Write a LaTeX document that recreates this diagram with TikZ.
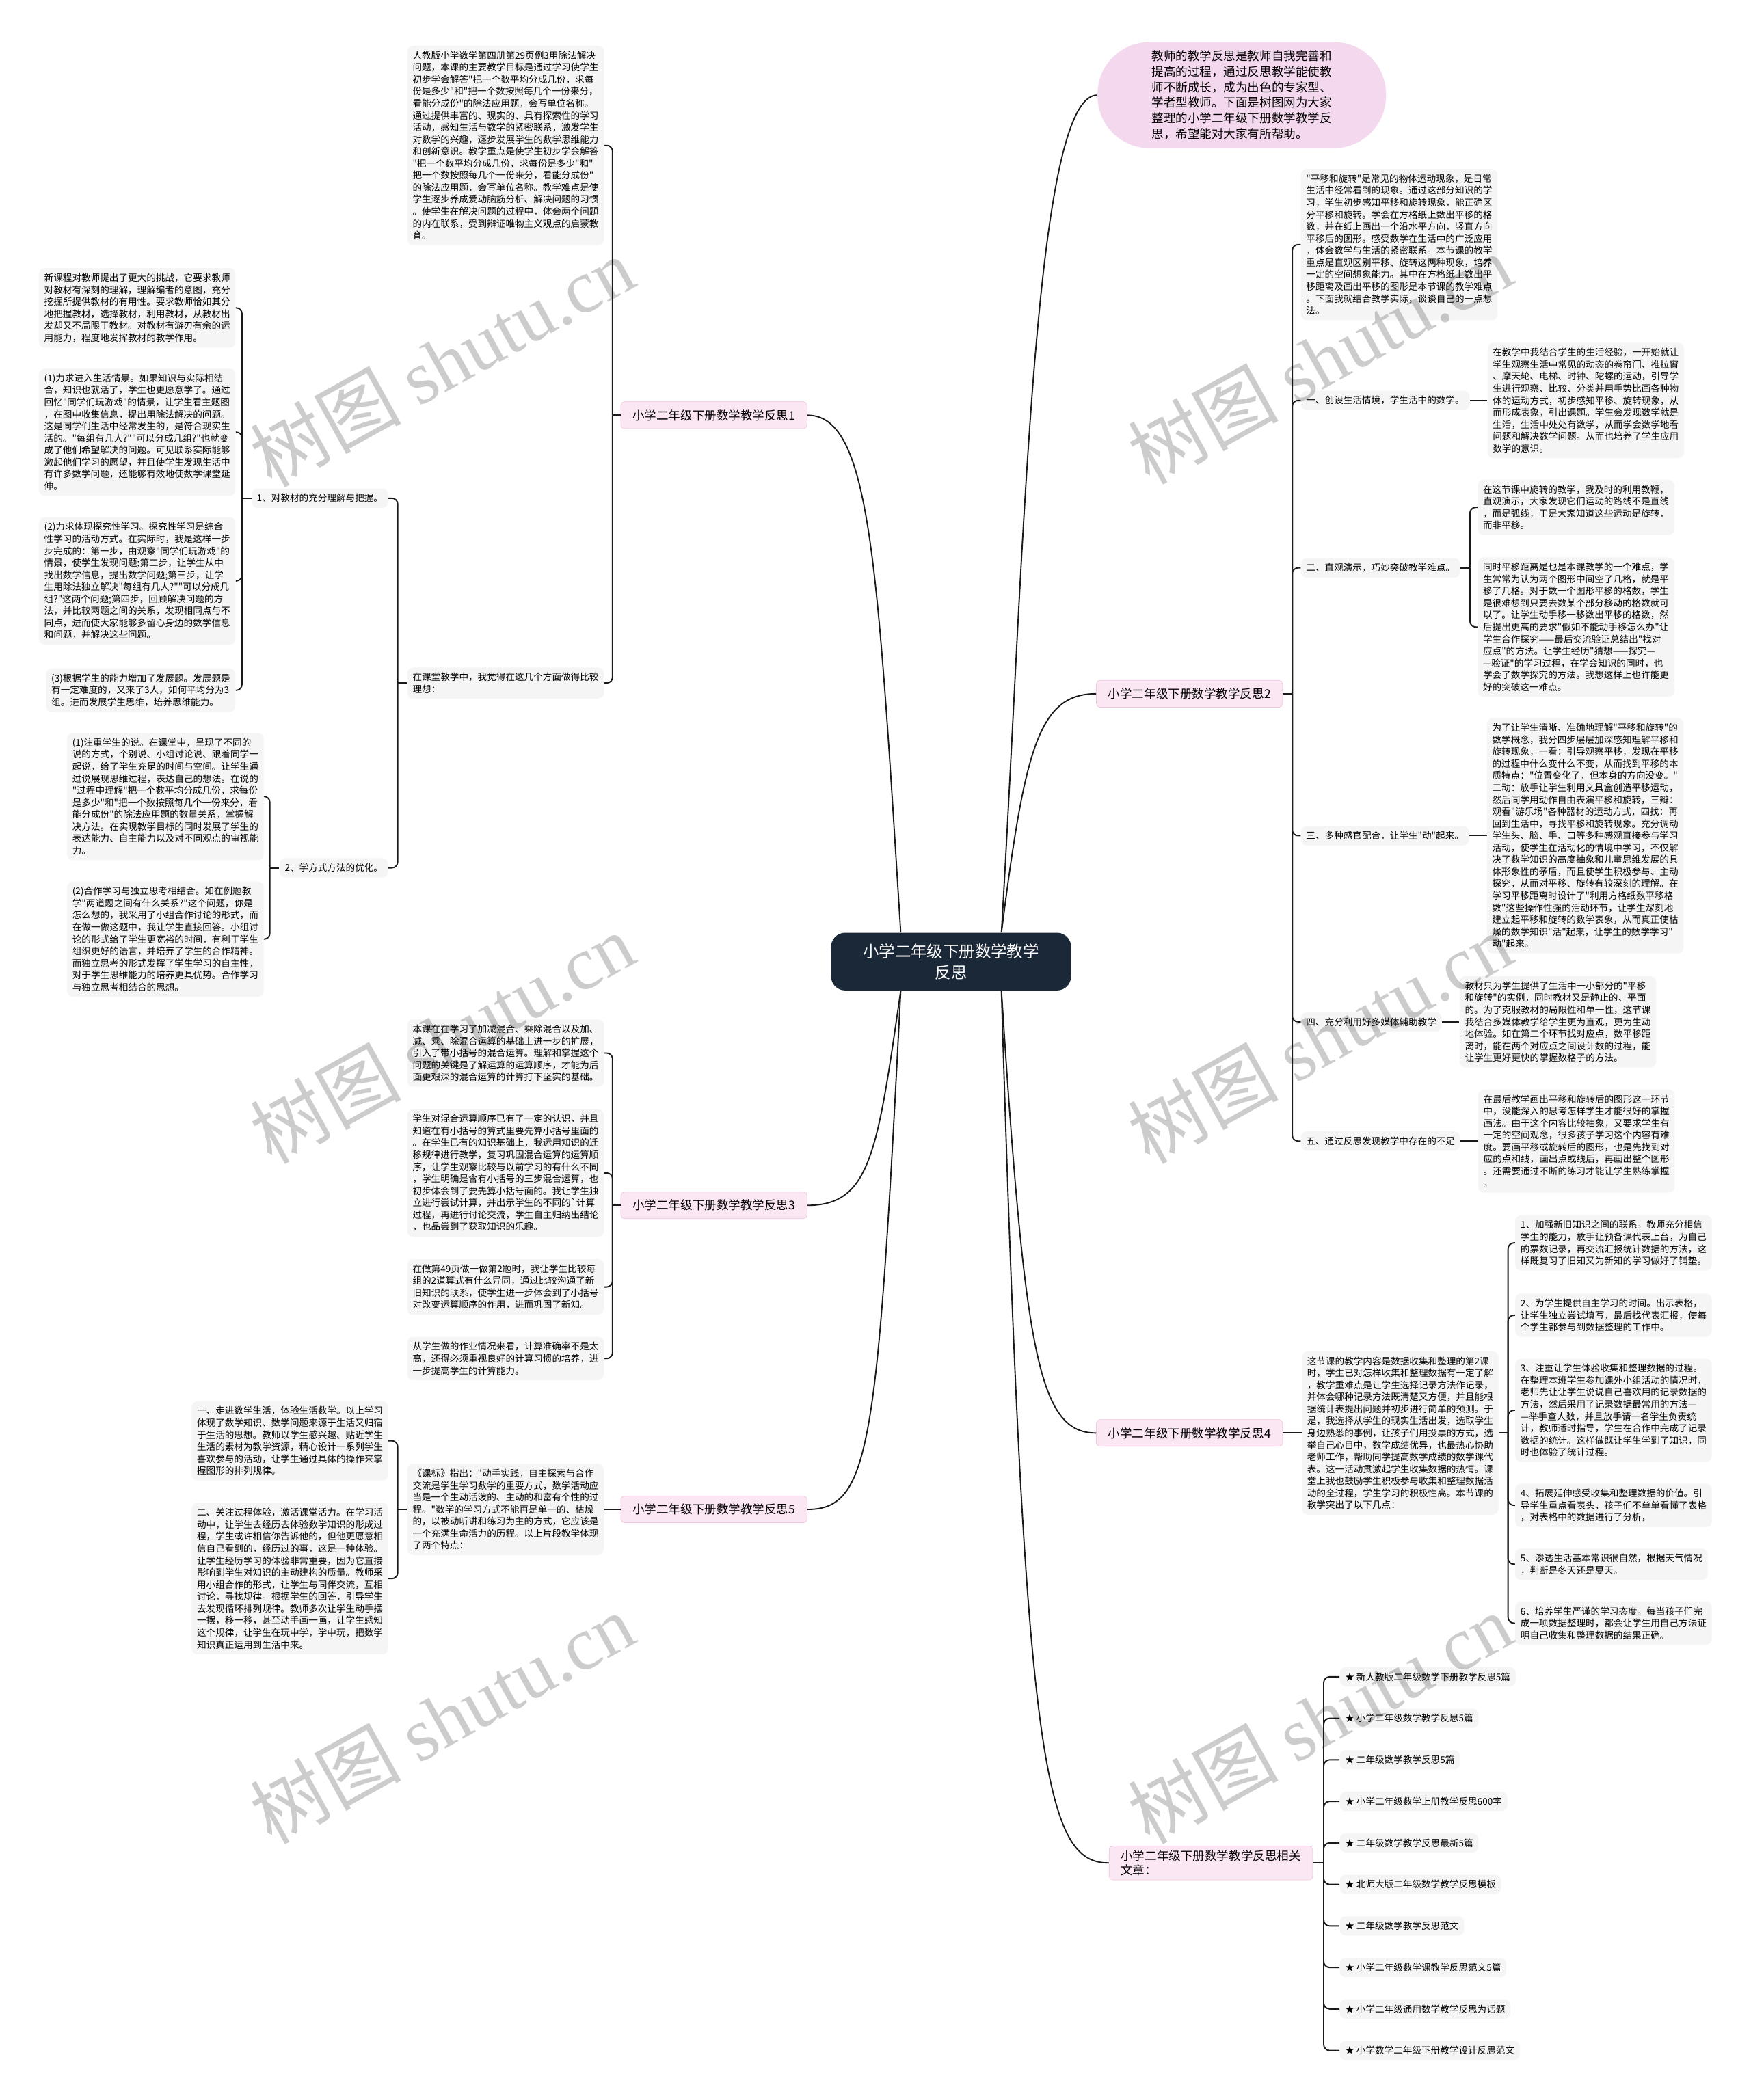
\documentclass[tikz,border=0pt]{standalone}
\usepackage{fontspec}
\setmainfont{Noto Sans CJK SC}
\newfontfamily\cjkfont{Noto Sans CJK SC}
\newfontfamily\wmlatin{Liberation Serif}
\usepackage{xcolor}
\usetikzlibrary{positioning}

\definecolor{rootnavy}{HTML}{1B2838}
\definecolor{boxgray}{HTML}{F5F5F5}
\definecolor{intropink}{HTML}{F4D8EE}
\definecolor{branchpink}{HTML}{FBE6F3}
\definecolor{branchline}{HTML}{EFC6E0}
\definecolor{linkcol}{HTML}{1A1A1A}

\begin{document}
\begin{tikzpicture}[x=0.4mm, y=-0.4mm,
  rootbox/.style={fill=rootnavy, text=white, rounded corners=12pt, align=center,
                  minimum width=204pt, minimum height=49pt,
                  font=\cjkfont\fontsize{13.6pt}{18pt}\selectfont},
  introbox/.style={fill=intropink, rounded corners=44pt, align=left,
                   minimum width=245pt, minimum height=90pt,
                   font=\cjkfont\fontsize{10.2pt}{13.2pt}\selectfont},
  branch/.style={fill=branchpink, draw=branchline, rounded corners=3pt, align=left,
                 inner xsep=10pt, minimum height=22.7pt,
                 font=\cjkfont\fontsize{10.2pt}{12.6pt}\selectfont},
  txt/.style={fill=boxgray, rounded corners=5pt, align=left, inner sep=4.5pt,
              font=\cjkfont\fontsize{7.9pt}{10.2pt}\selectfont},
  link/.style={draw=linkcol, line width=1.1pt},
  bracket/.style={link, rounded corners=5pt},
  wmark/.style={rotate=29, text=black, text opacity=0.2,
                font=\cjkfont\fontsize{64pt}{64pt}\selectfont},
]
  \path[use as bounding box, fill=white] (0,0) rectangle (1307,1568);

  % centre and intro
  \node[rootbox] (root) at (710,718) {小学二年级下册数学教学\\反思};
  \node[introbox] (intro) at (927,71) {教师的教学反思是教师自我完善和\\提高的过程，通过反思教学能使教\\师不断成长，成为出色的专家型、\\学者型教师。下面是树图网为大家\\整理的小学二年级下册数学教学反\\思，希望能对大家有所帮助。};

  % main branches
  \node[branch] (b1) at (533,310) {小学二年级下册数学教学反思1};
  \node[branch] (b3) at (533,900) {小学二年级下册数学教学反思3};
  \node[branch] (b5) at (533,1127) {小学二年级下册数学教学反思5};
  \node[branch] (b2) at (888,518) {小学二年级下册数学教学反思2};
  \node[branch] (b4) at (888,1070) {小学二年级下册数学教学反思4};
  \node[branch] (brel) at (904,1391) {小学二年级下册数学教学反思相关\\文章：};

  \draw[link] (root.150) .. controls (655,420) and (650,310) .. (b1.east);
  \draw[link] (root.-150) .. controls (655,860) and (650,900) .. (b3.east);
  \draw[link] (root.-150) .. controls (655,1080) and (650,1127) .. (b5.east);
  \draw[link] (root.30) .. controls (765,400) and (772,71) .. (intro.west);
  \draw[link] (root.30) .. controls (765,560) and (775,518) .. (b2.west);
  \draw[link] (root.-30) .. controls (765,1010) and (775,1070) .. (b4.west);
  \draw[link] (root.-30) .. controls (765,1320) and (780,1391) .. (brel.west);

  % branch 1
  \node[txt, anchor=north east] (b1goal) at (451,34) {人教版小学数学第四册第29页例3用除法解决\\问题，本课的主要教学目标是通过学习使学生\\初步学会解答"把一个数平均分成几份，求每\\份是多少"和"把一个数按照每几个一份来分，\\看能分成份"的除法应用题，会写单位名称。\\通过提供丰富的、现实的、具有探索性的学习\\活动，感知生活与数学的紧密联系，激发学生\\对数学的兴趣，逐步发展学生的数学思维能力\\和创新意识。教学重点是使学生初步学会解答\\"把一个数平均分成几份，求每份是多少"和"\\把一个数按照每几个一份来分，看能分成份"\\的除法应用题，会写单位名称。教学难点是使\\学生逐步养成爱动脑筋分析、解决问题的习惯\\。使学生在解决问题的过程中，体会两个问题\\的内在联系，受到辩证唯物主义观点的启蒙教\\育。};
  \node[txt, anchor=east] (b1cls) at (451,510) {在课堂教学中，我觉得在这几个方面做得比较\\理想：};
  \node[txt, anchor=east] (b1mat) at (290,372) {1、对教材的充分理解与把握。};
  \node[txt, anchor=east] (b1way) at (290,648) {2、学方式方法的优化。};

  \node[txt, anchor=north east] (mat0) at (176,200) {新课程对教师提出了更大的挑战，它要求教师\\对教材有深刻的理解，理解编者的意图，充分\\挖掘所提供教材的有用性。要求教师恰如其分\\地把握教材，选择教材，利用教材，从教材出\\发却又不局限于教材。对教材有游刃有余的运\\用能力，程度地发挥教材的教学作用。};
  \node[txt, anchor=north east] (mat1) at (176,275) {(1)力求进入生活情景。如果知识与实际相结\\合，知识也就活了，学生也更愿意学了。通过\\回忆"同学们玩游戏"的情景，让学生看主题图\\，在图中收集信息，提出用除法解决的问题。\\这是同学们生活中经常发生的，是符合现实生\\活的。"每组有几人?""可以分成几组?"也就变\\成了他们希望解决的问题。可见联系实际能够\\激起他们学习的愿望，并且使学生发现生活中\\有许多数学问题，还能够有效地使数学课堂延\\伸。};
  \node[txt, anchor=north east] (mat2) at (176,386) {(2)力求体现探究性学习。探究性学习是综合\\性学习的活动方式。在实际时，我是这样一步\\步完成的：第一步，由观察"同学们玩游戏"的\\情景，使学生发现问题;第二步，让学生从中\\找出数学信息，提出数学问题;第三步，让学\\生用除法独立解决"每组有几人?""可以分成几\\组?"这两个问题;第四步，回顾解决问题的方\\法，并比较两题之间的关系，发现相同点与不\\同点，进而使大家能够多留心身边的数学信息\\和问题，并解决这些问题。};
  \node[txt, anchor=north east] (mat3) at (176,499) {(3)根据学生的能力增加了发展题。发展题是\\有一定难度的，又来了3人，如何平均分为3\\组。进而发展学生思维，培养思维能力。};
  \node[txt, anchor=north east] (way1) at (197,547) {(1)注重学生的说。在课堂中，呈现了不同的\\说的方式，个别说、小组讨论说、跟着同学一\\起说，给了学生充足的时间与空间。让学生通\\过说展现思维过程，表达自己的想法。在说的\\"过程中理解"把一个数平均分成几份，求每份\\是多少"和"把一个数按照每几个一份来分，看\\能分成份"的除法应用题的数量关系，掌握解\\决方法。在实现教学目标的同时发展了学生的\\表达能力、自主能力以及对不同观点的审视能\\力。};
  \node[txt, anchor=north east] (way2) at (197,658) {(2)合作学习与独立思考相结合。如在例题教\\学"两道题之间有什么关系?"这个问题，你是\\怎么想的，我采用了小组合作讨论的形式，而\\在做一做这题中，我让学生直接回答。小组讨\\论的形式给了学生更宽裕的时间，有利于学生\\组织更好的语言，并培养了学生的合作精神。\\而独立思考的形式发挥了学生学习的自主性，\\对于学生思维能力的培养更具优势。合作学习\\与独立思考相结合的思想。};

  \coordinate[left=2.4mm of b1] (s1);
  \coordinate[left=2.8mm of b1cls] (scls);
  \coordinate[left=2.8mm of b1mat] (smat);
  \coordinate[left=2.8mm of b1way] (sway);
  \draw[link] (b1.west) -- (s1);
  \draw[bracket] (s1) |- (b1goal.east);
  \draw[bracket] (s1) |- (b1cls.east);
  \draw[link] (b1cls.west) -- (scls);
  \draw[bracket] (scls) |- (b1mat.east);
  \draw[bracket] (scls) |- (b1way.east);
  \draw[link] (b1mat.west) -- (smat);
  \foreach \n in {mat0,mat1,mat2,mat3} \draw[bracket] (smat) |- (\n.east);
  \draw[link] (b1way.west) -- (sway);
  \foreach \n in {way1,way2} \draw[bracket] (sway) |- (\n.east);

  % branch 3
  \node[txt, anchor=north east] (b3p1) at (451,761) {本课在在学习了加减混合、乘除混合以及加、\\减、乘、除混合运算的基础上进一步的扩展，\\引入了带小括号的混合运算。理解和掌握这个\\问题的关键是了解运算的运算顺序，才能为后\\面更艰深的混合运算的计算打下坚实的基础。};
  \node[txt, anchor=north east] (b3p2) at (451,828) {学生对混合运算顺序已有了一定的认识，并且\\知道在有小括号的算式里要先算小括号里面的\\。在学生已有的知识基础上，我运用知识的迁\\移规律进行教学，复习巩固混合运算的运算顺\\序，让学生观察比较与以前学习的有什么不同\\，学生明确是含有小括号的三步混合运算，也\\初步体会到了要先算小括号面的。我让学生独\\立进行尝试计算，并出示学生的不同的\textasciigrave 计算\\过程，再进行讨论交流，学生自主归纳出结论\\，也品尝到了获取知识的乐趣。};
  \node[txt, anchor=north east] (b3p3) at (451,940) {在做第49页做一做第2题时，我让学生比较每\\组的2道算式有什么异同，通过比较沟通了新\\旧知识的联系，使学生进一步体会到了小括号\\对改变运算顺序的作用，进而巩固了新知。};
  \node[txt, anchor=north east] (b3p4) at (451,998) {从学生做的作业情况来看，计算准确率不是太\\高，还得必须重视良好的计算习惯的培养，进\\一步提高学生的计算能力。};
  \coordinate[left=2.4mm of b3] (s3);
  \draw[link] (b3.west) -- (s3);
  \foreach \n in {b3p1,b3p2,b3p3,b3p4} \draw[bracket] (s3) |- (\n.east);

  % branch 5
  \node[txt, anchor=east] (b5std) at (451,1127) {《课标》指出："动手实践，自主探索与合作\\交流是学生学习数学的重要方式，数学活动应\\当是一个生动活泼的、主动的和富有个性的过\\程。"数学的学习方式不能再是单一的、枯燥\\的，以被动听讲和练习为主的方式，它应该是\\一个充满生命活力的历程。以上片段教学体现\\了两个特点：};
  \node[txt, anchor=north east] (b5one) at (290,1046) {一、走进数学生活，体验生活数学。以上学习\\体现了数学知识、数学问题来源于生活又归宿\\于生活的思想。教师以学生感兴趣、贴近学生\\生活的素材为教学资源，精心设计一系列学生\\喜欢参与的活动，让学生通过具体的操作来掌\\握图形的排列规律。};
  \node[txt, anchor=north east] (b5two) at (290,1122) {二、关注过程体验，激活课堂活力。在学习活\\动中，让学生去经历去体验数学知识的形成过\\程，学生或许相信你告诉他的，但他更愿意相\\信自己看到的，经历过的事，这是一种体验。\\让学生经历学习的体验非常重要，因为它直接\\影响到学生对知识的主动建构的质量。教师采\\用小组合作的形式，让学生与同伴交流，互相\\讨论，寻找规律。根据学生的回答，引导学生\\去发现循环排列规律。教师多次让学生动手摆\\一摆，移一移，甚至动手画一画，让学生感知\\这个规律，让学生在玩中学，学中玩，把数学\\知识真正运用到生活中来。};
  \coordinate[left=2.8mm of b5std] (sstd);
  \draw[link] (b5.west) -- (b5std.east);
  \draw[link] (b5std.west) -- (sstd);
  \draw[bracket] (sstd) |- (b5one.east);
  \draw[bracket] (sstd) |- (b5two.east);

  % branch 2
  \node[txt, anchor=north west] (b2intro) at (971,126) {"平移和旋转"是常见的物体运动现象，是日常\\生活中经常看到的现象。通过这部分知识的学\\习，学生初步感知平移和旋转现象，能正确区\\分平移和旋转。学会在方格纸上数出平移的格\\数，并在纸上画出一个沿水平方向，竖直方向\\平移后的图形。感受数学在生活中的广泛应用\\，体会数学与生活的紧密联系。本节课的教学\\重点是直观区别平移、旋转这两种现象，培养\\一定的空间想象能力。其中在方格纸上数出平\\移距离及画出平移的图形是本节课的教学难点\\。下面我就结合教学实际，谈谈自己的一点想\\法。};
  \node[txt, anchor=west] (b2s1) at (971,299) {一、创设生活情境，学生活中的数学。};
  \node[txt, right=5.2mm of b2s1] (b2s1t) {在教学中我结合学生的生活经验，一开始就让\\学生观察生活中常见的动态的卷帘门、推拉窗\\、摩天轮、电梯、时钟、陀螺的运动，引导学\\生进行观察、比较、分类并用手势比画各种物\\体的运动方式，初步感知平移、旋转现象，从\\而形成表象，引出课题。学生会发现数学就是\\生活，生活中处处有数学，从而学会数学地看\\问题和解决数学问题。从而也培养了学生应用\\数学的意识。};
  \node[txt, anchor=west] (b2s2) at (971,424) {二、直观演示，巧妙突破教学难点。};
  \node[txt, anchor=north west] (b2s2a) at (1103,358) {在这节课中旋转的教学，我及时的利用教鞭，\\直观演示，大家发现它们运动的路线不是直线\\，而是弧线，于是大家知道这些运动是旋转，\\而非平移。};
  \node[txt, anchor=north west] (b2s2b) at (1103,416) {同时平移距离是也是本课教学的一个难点，学\\生常常为认为两个图形中间空了几格，就是平\\移了几格。对于数一个图形平移的格数，学生\\是很难想到只要去数某个部分移动的格数就可\\以了。让学生动手移一移数出平移的格数，然\\后提出更高的要求"假如不能动手移怎么办"让\\学生合作探究——最后交流验证总结出"找对\\应点"的方法。让学生经历"猜想——探究—\\—验证"的学习过程，在学会知识的同时，也\\学会了数学探究的方法。我想这样上也许能更\\好的突破这一难点。};
  \node[txt, anchor=west] (b2s3) at (971,624) {三、多种感官配合，让学生"动"起来。};
  \node[txt, right=5.2mm of b2s3] (b2s3t) {为了让学生清晰、准确地理解"平移和旋转"的\\数学概念，我分四步层层加深感知理解平移和\\旋转现象，一看：引导观察平移，发现在平移\\的过程中什么变什么不变，从而找到平移的本\\质特点："位置变化了，但本身的方向没变。"\\二动：放手让学生利用文具盒创造平移运动，\\然后同学用动作自由表演平移和旋转，三辩：\\观看"游乐场"各种器材的运动方式，四找：再\\回到生活中，寻找平移和旋转现象。充分调动\\学生头、脑、手、口等多种感观直接参与学习\\活动，使学生在活动化的情境中学习，不仅解\\决了数学知识的高度抽象和儿童思维发展的具\\体形象性的矛盾，而且使学生积极参与、主动\\探究，从而对平移、旋转有较深刻的理解。在\\学习平移距离时设计了"利用方格纸数平移格\\数"这些操作性强的活动环节，让学生深刻地\\建立起平移和旋转的数学表象，从而真正使枯\\燥的数学知识"活"起来，让学生的数学学习"\\动"起来。};
  \node[txt, anchor=west] (b2s4) at (971,763) {四、充分利用好多媒体辅助教学};
  \node[txt, right=5.2mm of b2s4] (b2s4t) {教材只为学生提供了生活中一小部分的"平移\\和旋转"的实例，同时教材又是静止的、平面\\的。为了克服教材的局限性和单一性，这节课\\我结合多媒体教学给学生更为直观，更为生动\\地体验。如在第二个环节找对应点，数平移距\\离时，能在两个对应点之间设计数的过程，能\\让学生更好更快的掌握数格子的方法。};
  \node[txt, anchor=west] (b2s5) at (971,852) {五、通过反思发现教学中存在的不足};
  \node[txt, right=5.2mm of b2s5] (b2s5t) {在最后教学画出平移和旋转后的图形这一环节\\中，没能深入的思考怎样学生才能很好的掌握\\画法。由于这个内容比较抽象，又要求学生有\\一定的空间观念，很多孩子学习这个内容有难\\度。要画平移或旋转后的图形，也是先找到对\\应的点和线，画出点或线后，再画出整个图形\\。还需要通过不断的练习才能让学生熟练掌握\\。};
  \coordinate[right=2.8mm of b2] (s2);
  \coordinate[right=2.8mm of b2s2] (s22);
  \draw[link] (b2.east) -- (s2);
  \foreach \n in {b2intro,b2s1,b2s2,b2s3,b2s4,b2s5} \draw[bracket] (s2) |- (\n.west);
  \draw[link] (b2s1.east) -- (b2s1t.west);
  \draw[link] (b2s2.east) -- (s22);
  \draw[bracket] (s22) |- (b2s2a.west);
  \draw[bracket] (s22) |- (b2s2b.west);
  \draw[link] (b2s3.east) -- (b2s3t.west);
  \draw[link] (b2s4.east) -- (b2s4t.west);
  \draw[link] (b2s5.east) -- (b2s5t.west);

  % branch 4
  \node[txt, right=5.6mm of b4] (b4txt) {这节课的教学内容是数据收集和整理的第2课\\时，学生已对怎样收集和整理数据有一定了解\\，教学重难点是让学生选择记录方法作记录，\\并体会哪种记录方法既清楚又方便，并且能根\\据统计表提出问题并初步进行简单的预测。于\\是，我选择从学生的现实生活出发，选取学生\\身边熟悉的事例，让孩子们用投票的方式，选\\举自己心目中，数学成绩优异，也最热心协助\\老师工作，帮助同学提高数学成绩的数学课代\\表。这一活动贯激起学生收集数据的热情。课\\堂上我也鼓励学生积极参与收集和整理数据活\\动的全过程，学生学习的积极性高。本节课的\\教学突出了以下几点：};
  \node[txt, anchor=west] (b4p1) at (1131,928) {1、加强新旧知识之间的联系。教师充分相信\\学生的能力，放手让预备课代表上台，为自己\\的票数记录，再交流汇报统计数据的方法，这\\样既复习了旧知又为新知的学习做好了铺垫。};
  \node[txt, anchor=west] (b4p2) at (1131,982) {2、为学生提供自主学习的时间。出示表格，\\让学生独立尝试填写，最后找代表汇报，使每\\个学生都参与到数据整理的工作中。};
  \node[txt, anchor=west] (b4p3) at (1131,1053) {3、注重让学生体验收集和整理数据的过程。\\在整理本班学生参加课外小组活动的情况时，\\老师先让让学生说说自己喜欢用的记录数据的\\方法，然后采用了记录数据最常用的方法—\\—举手查人数，并且放手请一名学生负责统\\计，教师适时指导，学生在合作中完成了记录\\数据的统计。这样做既让学生学到了知识，同\\时也体验了统计过程。};
  \node[txt, anchor=west] (b4p4) at (1131,1124) {4、拓展延伸感受收集和整理数据的价值。引\\导学生重点看表头，孩子们不单单看懂了表格\\，对表格中的数据进行了分析，};
  \node[txt, anchor=west] (b4p5) at (1131,1168) {5、渗透生活基本常识很自然，根据天气情况\\，判断是冬天还是夏天。};
  \node[txt, anchor=west] (b4p6) at (1131,1212) {6、培养学生严谨的学习态度。每当孩子们完\\成一项数据整理时，都会让学生用自己方法证\\明自己收集和整理数据的结果正确。};
  \coordinate[right=2.8mm of b4txt] (s4);
  \draw[link] (b4.east) -- (b4txt.west);
  \draw[link] (b4txt.east) -- (s4);
  \foreach \n in {b4p1,b4p2,b4p3,b4p4,b4p5,b4p6} \draw[bracket] (s4) |- (\n.west);

  % related articles
  \coordinate[right=3.2mm of brel] (srel);
  \draw[link] (brel.east) -- (srel);
  \foreach \t [count=\i] in {新人教版二年级数学下册教学反思5篇, 小学二年级数学教学反思5篇,
      二年级数学教学反思5篇, 小学二年级数学上册教学反思600字, 二年级数学教学反思最新5篇,
      北师大版二年级数学教学反思模板, 二年级数学教学反思范文, 小学二年级数学课教学反思范文5篇,
      小学二年级通用数学教学反思为话题, 小学数学二年级下册教学设计反思范文} {
    \node[txt, anchor=west] (rel\i) at (1000,{1221+31*\i}) {★ \t};
    \draw[bracket] (srel) |- (rel\i.west);
  }

  % watermarks
  \foreach \wx/\wy [count=\i] in {330/270, 985/268, 330/775, 985/775, 330/1283, 985/1283}
    \node[wmark] (wm\i) at (\wx,\wy) {树图 {\wmlatin shutu.cn}};
\end{tikzpicture}
\end{document}
